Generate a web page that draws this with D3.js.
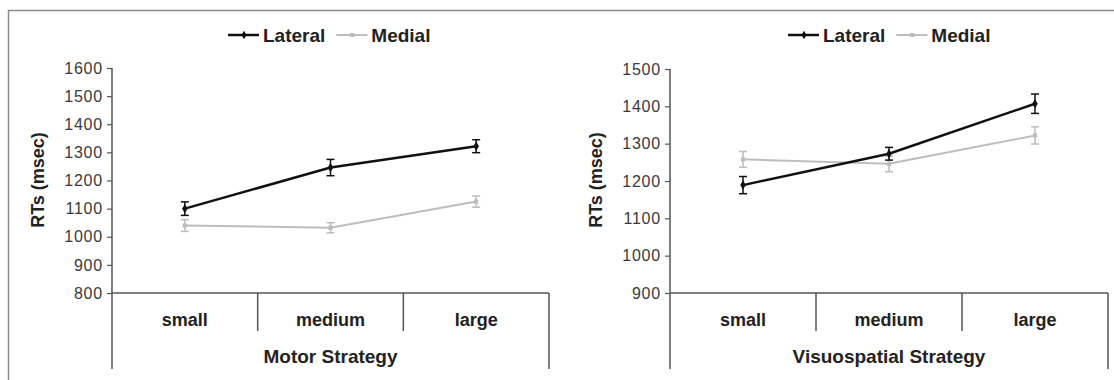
<!DOCTYPE html>
<html>
<head>
<meta charset="utf-8">
<script src="https://cdn.jsdelivr.net/npm/d3@7"></script>
<style>
  body { margin: 0; background: #fff; }
  svg { display: block; font-family: "Liberation Sans", Arial, sans-serif; }
</style>
</head>
<body>
<div id="chart-container"></div>
<script>
// data
const categories = ['small', 'medium', 'large']
const seriesNames = ['Lateral', 'Medial']

const motorLateral = [1100, 1246, 1322]
const motorLateralErr = [24, 29, 23]
const motorMedial = [1040, 1032, 1125]
const motorMedialErr = [21, 18, 20]

const visuoLateral = [1189, 1273, 1407]
const visuoLateralErr = [23, 17, 26]
const visuoMedial = [1258, 1246, 1322]
const visuoMedialErr = [21, 21, 23]

const motorTicks = [800, 900, 1000, 1100, 1200, 1300, 1400, 1500, 1600]
const visuoTicks = [900, 1000, 1100, 1200, 1300, 1400, 1500]

// constants
const width = 1114
const height = 380
const colors = {Lateral: '#111', Medial: '#bdbdbd'}
const axisColor = '#555'
const textColor = '#222'

const panels = [
  {title: 'Motor Strategy', left: 112, right: 549, ticks: motorTicks, legendX: 228,
    series: [
      {name: 'Lateral', values: motorLateral, err: motorLateralErr},
      {name: 'Medial', values: motorMedial, err: motorMedialErr}
    ]},
  {title: 'Visuospatial Strategy', left: 670, right: 1108, ticks: visuoTicks, legendX: 788,
    series: [
      {name: 'Lateral', values: visuoLateral, err: visuoLateralErr},
      {name: 'Medial', values: visuoMedial, err: visuoMedialErr}
    ]}
]

const plotTop = 68
const plotBottom = 293

const svg = d3.select('#chart-container')
  .append('svg')
  .attr('width', width)
  .attr('height', height)

// outer frame (top + left edge only visible)
svg.append('path')
  .attr('d', `M8.5,${height} V10.5 H${width}`)
  .attr('fill', 'none')
  .attr('stroke', '#8a8a8a')
  .attr('stroke-width', 1.5)

panels.forEach(p => {
  const g = svg.append('g')

  const x = d3.scaleBand()
    .domain(categories)
    .range([p.left, p.right])
    .padding(0)

  const y = d3.scaleLinear()
    .domain(d3.extent(p.ticks))
    .range([plotBottom, plotTop + (p.ticks.length === 7 ? 1 : 0)])

  // y axis
  const yAxis = d3.axisLeft(y)
    .tickValues(p.ticks)
    .tickSize(5)
    .tickPadding(4)
    .tickFormat(d3.format('d'))
  const yAxisG = g.append('g')
    .attr('transform', `translate(${p.left}, 0)`)
    .call(yAxis)
  yAxisG.select('.domain').remove()
  yAxisG.selectAll('line').attr('stroke', axisColor).attr('stroke-width', 1.2)
  yAxisG.selectAll('text')
    .attr('fill', '#3a3a3a')
    .attr('font-size', '16px')
    .attr('letter-spacing', '0.8px')
    .attr('font-family', '"Liberation Sans", Arial, sans-serif')

  // vertical axis line runs down through the category table
  g.append('line')
    .attr('x1', p.left).attr('x2', p.left)
    .attr('y1', y(p.ticks[p.ticks.length - 1])).attr('y2', 369)
    .attr('stroke', axisColor).attr('stroke-width', 1.5)
  // x axis line
  g.append('line')
    .attr('x1', p.left).attr('x2', p.right)
    .attr('y1', plotBottom).attr('y2', plotBottom)
    .attr('stroke', axisColor).attr('stroke-width', 1.5)
  // category separators
  categories.forEach((c, i) => {
    const xe = x(c) + x.bandwidth()
    g.append('line')
      .attr('x1', xe).attr('x2', xe)
      .attr('y1', plotBottom)
      .attr('y2', i === categories.length - 1 ? 369 : 331)
      .attr('stroke', axisColor).attr('stroke-width', 1.5)
  })
  // category labels
  g.selectAll('.cat')
    .data(categories).enter()
    .append('text')
    .attr('x', d => x(d) + x.bandwidth() / 2)
    .attr('y', 326)
    .attr('text-anchor', 'middle')
    .attr('font-size', '18px')
    .attr('font-weight', 'bold')
    .attr('fill', textColor)
    .text(d => d)
  g.append('text')
    .attr('x', (p.left + p.right) / 2)
    .attr('y', 363)
    .attr('text-anchor', 'middle')
    .attr('font-size', '19px')
    .attr('font-weight', 'bold')
    .attr('fill', textColor)
    .text(p.title)

  // y label
  g.append('text')
    .attr('transform', `translate(${p.left - 68}, 180) rotate(-90)`)
    .attr('text-anchor', 'middle')
    .attr('font-size', '18px')
    .attr('font-weight', 'bold')
    .attr('fill', textColor)
    .text('RTs (msec)')

  const cx = d => x(d) + x.bandwidth() / 2
  const line = d3.line()
    .x(d => cx(d.cat))
    .y(d => y(d.v))

  // draw medial first so lateral sits on top
  p.series.slice().reverse().forEach(s => {
    const pts = categories.map((c, i) => ({cat: c, v: s.values[i], e: s.err[i]}))
    const col = colors[s.name]
    const lw = s.name === 'Lateral' ? 2.5 : 2

    g.append('path')
      .datum(pts)
      .attr('d', line)
      .attr('fill', 'none')
      .attr('stroke', col)
      .attr('stroke-width', lw)

    const eb = g.append('g').selectAll('g')
      .data(pts).enter()
      .append('g')
    eb.append('line')
      .attr('x1', d => cx(d.cat)).attr('x2', d => cx(d.cat))
      .attr('y1', d => y(d.v - d.e)).attr('y2', d => y(d.v + d.e))
      .attr('stroke', col).attr('stroke-width', 1.5)
    eb.append('line')
      .attr('x1', d => cx(d.cat) - 4).attr('x2', d => cx(d.cat) + 4)
      .attr('y1', d => y(d.v + d.e)).attr('y2', d => y(d.v + d.e))
      .attr('stroke', col).attr('stroke-width', 1.5)
    eb.append('line')
      .attr('x1', d => cx(d.cat) - 4).attr('x2', d => cx(d.cat) + 4)
      .attr('y1', d => y(d.v - d.e)).attr('y2', d => y(d.v - d.e))
      .attr('stroke', col).attr('stroke-width', 1.5)

    g.append('g').selectAll('path')
      .data(pts).enter()
      .append('path')
      .attr('transform', d => `translate(${cx(d.cat)}, ${y(d.v)})`)
      .attr('d', d3.symbol(s.name === 'Lateral' ? d3.symbolDiamond : d3.symbolSquare, s.name === 'Lateral' ? 26 : 18))
      .attr('fill', col)
  })

  // legend
  const leg = g.append('g').attr('transform', `translate(${p.legendX}, 35)`)
  let off = 0
  seriesNames.forEach(name => {
    const col = colors[name]
    leg.append('line')
      .attr('x1', off).attr('x2', off + 31)
      .attr('y1', 0).attr('y2', 0)
      .attr('stroke', col).attr('stroke-width', name === 'Lateral' ? 2.5 : 2)
    leg.append('path')
      .attr('transform', `translate(${off + 16}, 0)`)
      .attr('d', d3.symbol(name === 'Lateral' ? d3.symbolDiamond : d3.symbolSquare, name === 'Lateral' ? 22 : 16))
      .attr('fill', col)
    const t = leg.append('text')
      .attr('x', off + 35)
      .attr('y', 6.5)
      .attr('font-size', '19px')
      .attr('font-weight', 'bold')
      .attr('fill', textColor)
      .text(name)
    off += 35 + t.node().getComputedTextLength() + 11
  })
})
</script>
</body>
</html>
